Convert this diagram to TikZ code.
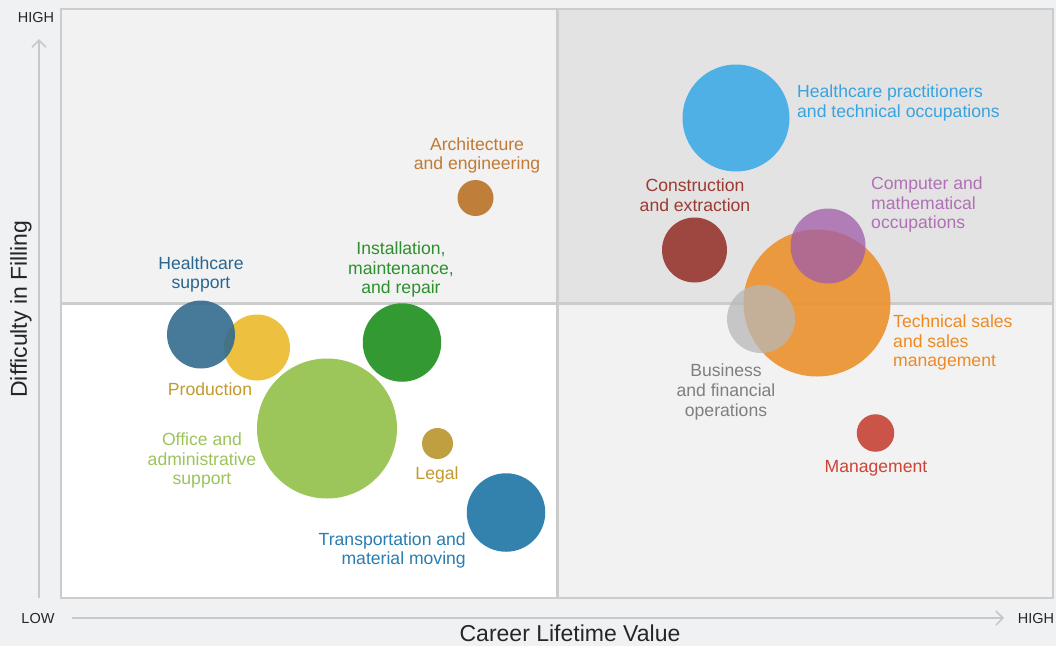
\documentclass[tikz,border=0pt]{standalone}
\usepackage{fontspec}
\setmainfont{Liberation Sans}
\usetikzlibrary{arrows.meta}
\definecolor{bgc}{HTML}{F0F1F3}
\definecolor{qlight}{HTML}{F2F2F2}
\definecolor{qdark}{HTML}{E3E3E3}
\definecolor{bordc}{HTML}{CCCCCC}
\definecolor{axisc}{HTML}{C8C8C8}
\definecolor{cHcp}{HTML}{4FB0E5}
\definecolor{tHcp}{HTML}{3AA3DE}
\definecolor{cCon}{HTML}{9E4640}
\definecolor{tCon}{HTML}{9B3A32}
\definecolor{cComp}{HTML}{A05DAA}
\definecolor{tComp}{HTML}{B070B5}
\definecolor{cTech}{HTML}{EB9433}
\definecolor{tTech}{HTML}{EE8A22}
\definecolor{cBus}{HTML}{B8B8B8}
\definecolor{tBus}{HTML}{7F7F7F}
\definecolor{cMgmt}{HTML}{CB5448}
\definecolor{tMgmt}{HTML}{CC4436}
\definecolor{cArch}{HTML}{BF7E3A}
\definecolor{tArch}{HTML}{C07A35}
\definecolor{cInst}{HTML}{339933}
\definecolor{tInst}{HTML}{2E8F2E}
\definecolor{cHcs}{HTML}{336B8E}
\definecolor{tHcs}{HTML}{2A6690}
\definecolor{cProd}{HTML}{EDC13F}
\definecolor{tProd}{HTML}{C29A2E}
\definecolor{cOff}{HTML}{9DC65A}
\definecolor{tOff}{HTML}{9CC45A}
\definecolor{cLeg}{HTML}{BF9F3F}
\definecolor{tLeg}{HTML}{C29A2E}
\definecolor{cTra}{HTML}{3382AE}
\definecolor{tTra}{HTML}{2A7DB0}
\begin{document}
\begin{tikzpicture}[x=1pt,y=-1pt,
  bubble/.style={circle,inner sep=0pt,draw=none},
  lbl/.style={inner sep=0pt,font=\fontsize{17.6}{19.6}\selectfont},
  axlbl/.style={inner sep=0pt,font=\fontsize{14.5}{16}\selectfont,text=black!85},
  axtitle/.style={inner sep=0pt,font=\fontsize{23}{26}\selectfont,text=black!85},
  axline/.style={draw=axisc,line width=1.6pt,-{Straight Barb[length=7pt,width=14pt,line width=1.6pt]}},
  gridline/.style={draw=bordc,line width=2.5pt}]
\useasboundingbox (0,0) rectangle (1056,646);
\fill[bgc] (0,0) rectangle (1056,646);
% quadrants
\fill[qlight] (61,9) rectangle (557.5,303.5);
\fill[qdark] (557.5,9) rectangle (1053,303.5);
\fill[white] (61,303.5) rectangle (557.5,598);
\fill[qlight] (557.5,303.5) rectangle (1053,598);
\draw[gridline] (61,9) rectangle (1053,598);
\draw[gridline] (557.5,9) -- (557.5,598);
\draw[gridline] (61,303.5) -- (1053,303.5);
% axes
\coordinate (ybot) at (39,598);
\coordinate (ytop) at (39,39);
\coordinate (xl) at (72,618);
\coordinate (xr) at (1004,618);
\draw[axline] (ybot) -- (ytop);
\draw[axline] (xl) -- (xr);
\node[axlbl] (hightop) at (36,18) {HIGH};
\node[axlbl] (lowl) at (38,618.5) {LOW};
\node[axlbl] (highr) at (1036,618.5) {HIGH};
\node[axtitle] (xtitle) at (570,633) {Career Lifetime Value};
\node[axtitle,rotate=90] (ytitle) at (21,309) {Difficulty in Filling};
% bubbles
\node[bubble,fill=cHcp,minimum size=107pt] (bHcp) at (736,118) {};
\node[bubble,fill=cCon,minimum size=65pt] (bCon) at (694.5,250) {};
\node[bubble,fill=cTech,fill opacity=0.93,minimum size=147pt] (bTech) at (817,303) {};
\node[bubble,fill=cComp,fill opacity=0.76,minimum size=75pt] (bComp) at (828,246) {};
\node[bubble,fill=cBus,fill opacity=0.75,minimum size=68pt] (bBus) at (761,319) {};
\node[bubble,fill=cMgmt,minimum size=37.5pt] (bMgmt) at (875.5,433) {};
\node[bubble,fill=cArch,minimum size=36pt] (bArch) at (475.5,198) {};
\node[bubble,fill=cProd,minimum size=66pt] (bProd) at (257,347.5) {};
\node[bubble,fill=cHcs,fill opacity=0.9,minimum size=68pt] (bHcs) at (201,334.5) {};
\node[bubble,fill=cOff,minimum size=140pt] (bOff) at (327,428.5) {};
\node[bubble,fill=cInst,minimum size=78.5pt] (bInst) at (402,342.5) {};
\node[bubble,fill=cLeg,minimum size=31pt] (bLeg) at (437.5,443.5) {};
\node[bubble,fill=cTra,minimum size=78.5pt] (bTra) at (506,512.5) {};
% labels
\node[lbl,text=tHcp,anchor=west,align=left] (lHcp) at (797,103) {Healthcare practitioners\\and technical occupations};
\node[lbl,text=tCon,align=center] (lCon) at (695,195) {Construction\\and extraction};
\node[lbl,text=tComp,anchor=west,align=left] (lComp) at (871,204.5) {Computer and\\mathematical\\occupations};
\node[lbl,text=tTech,anchor=west,align=left] (lTech) at (893,342.5) {Technical sales\\and sales\\management};
\node[lbl,text=tBus,align=center] (lBus) at (726,392) {Business\\and financial\\operations};
\node[lbl,text=tMgmt] (lMgmt) at (876,468.5) {Management};
\node[lbl,text=tArch,align=center] (lArch) at (477,155.5) {Architecture\\and engineering};
\node[lbl,text=tInst,align=center] (lInst) at (401,269.5) {Installation,\\maintenance,\\and repair};
\node[lbl,text=tHcs,align=center] (lHcs) at (201,274.5) {Healthcare\\support};
\node[lbl,text=tProd] (lProd) at (210,389.5) {Production};
\node[lbl,text=tOff,align=center] (lOff) at (202,460.5) {Office and\\administrative\\support};
\node[lbl,text=tLeg] (lLeg) at (437,474.5) {Legal};
\node[lbl,text=tTra,anchor=east,align=right] (lTra) at (466,550.5) {Transportation and\\material moving};
\end{tikzpicture}
\end{document}
